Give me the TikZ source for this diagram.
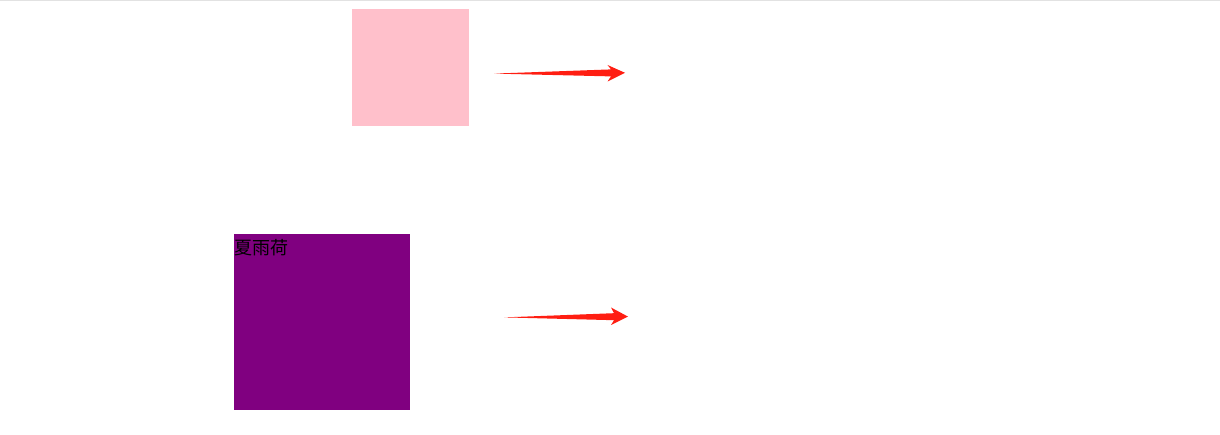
\documentclass[tikz,border=0pt]{standalone}
\usepackage{fontspec}
\newfontfamily\cjk{Noto Sans CJK SC}
\definecolor{boxpink}{HTML}{FFC0CB}
\definecolor{boxpurple}{HTML}{800080}
\definecolor{arrowred}{HTML}{FF1E12}
\definecolor{rulegray}{HTML}{E2E2E2}
\tikzset{
  square/.style={draw=none, inner sep=0pt, outer sep=0pt, anchor=north west},
  taper/.style={fill=arrowred, draw=none}
}
\begin{document}
\begin{tikzpicture}[x=1pt, y=-1pt]
    \useasboundingbox (0,0) rectangle (1220,435);
    \fill[rulegray] (0,0) rectangle (1220,1.5);

    % Squares
    \node[square, fill=boxpink, minimum width=117pt, minimum height=117pt] (pinkbox) at (352,9) {};
    \node[square, fill=boxpurple, minimum width=176pt, minimum height=176pt] (purplebox) at (234,234) {};
    \node[anchor=north west, inner sep=0pt, font=\cjk\fontsize{18pt}{18pt}\selectfont] (name) at (234.5,239) {夏雨荷};

    % Arrows
    \coordinate (tipA) at (625,72.8);
    \coordinate (tipB) at (628,316.6);
    \fill[taper] (494,73.6) -- (611,69.4) -- (607.5,65) -- (tipA) -- (607.5,81.5) -- (611,76.4) -- cycle;
    \fill[taper] (504,317.4) -- (614,313.2) -- (611,307.5) -- (tipB) -- (611,325) -- (614,320.2) -- cycle;
\end{tikzpicture}
\end{document}
